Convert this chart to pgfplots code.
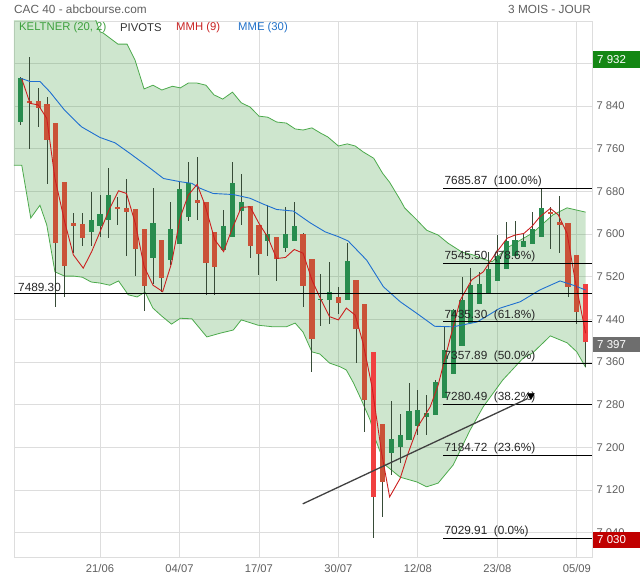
\documentclass[border=0pt]{standalone}
\usepackage{fontspec}
\setmainfont{Liberation Sans}
\usepackage{pgfplots}
\usepackage{pgfplotstable}
\pgfplotsset{compat=1.18}

\definecolor{candG}{RGB}{40,140,78}
\definecolor{candR}{RGB}{202,82,56}
\definecolor{candBR}{RGB}{240,64,64}
\definecolor{wick}{RGB}{55,75,55}
\definecolor{kelt}{RGB}{76,170,76}
\definecolor{keltfill}{RGB}{60,156,60}
\definecolor{mme}{RGB}{31,111,208}
\definecolor{mmh}{RGB}{204,31,31}
\definecolor{gridc}{RGB}{221,221,221}
\definecolor{txt}{RGB}{95,95,95}
\definecolor{legG}{RGB}{60,160,60}
\definecolor{legR}{RGB}{200,35,35}
\definecolor{legB}{RGB}{32,112,200}
\definecolor{boxG}{RGB}{20,135,20}
\definecolor{boxK}{RGB}{110,110,110}
\definecolor{boxR}{RGB}{192,0,0}

% i open high low close
\pgfplotstableread{
i o h l c
0 7810 7895 7805 7892
8 7604 7679 7577 7627
9 7615 7673 7595 7637
10 7627 7723 7592 7673
15 7555 7686 7507 7620
17 7551 7660 7542 7609
18 7581 7698 7581 7684
19 7631 7735 7624 7695
23 7570 7645 7570 7615
24 7594 7735 7594 7695
25 7644 7712 7617 7660
28 7587 7654 7559 7600
30 7574 7650 7567 7601
31 7587 7660 7587 7615
34 7477 7525 7427 7479
35 7477 7547 7431 7492
37 7477 7584 7477 7549
42 7189 7286 7148 7215
43 7201 7262 7170 7224
44 7214 7320 7214 7269
45 7240 7307 7223 7271
46 7256 7298 7223 7264
47 7260 7326 7260 7323
48 7292 7426 7292 7382
49 7337 7460 7337 7457
50 7390 7519 7390 7476
51 7434 7536 7434 7504
52 7469 7529 7469 7506
53 7487 7567 7487 7534
54 7511 7598 7511 7559
55 7534 7623 7534 7586
56 7559 7624 7559 7589
57 7575 7600 7575 7587
58 7581 7642 7581 7609
59 7594 7686 7594 7648
}\greenc

\pgfplotstableread{
i o h l c
1 7850 7932 7760 7846
2 7849 7874 7801 7837
3 7843 7857 7693 7777
4 7809 7809 7464 7584
5 7697 7697 7482 7540
6 7621 7639 7564 7616
7 7618 7639 7578 7593
11 7650 7670 7617 7647
12 7648 7704 7559 7642
13 7646 7646 7521 7572
14 7609 7609 7456 7502
16 7589 7589 7492 7517
20 7664 7745 7626 7658
21 7660 7660 7486 7546
22 7604 7604 7486 7538
26 7652 7652 7556 7578
27 7617 7617 7524 7562
29 7594 7594 7512 7553
32 7601 7601 7464 7503
33 7553 7553 7342 7403
36 7482 7500 7451 7470
38 7514 7514 7358 7421
39 7468 7468 7228 7289
41 7244 7244 7070 7135
60 7640 7651 7571 7639
61 7623 7671 7565 7617
62 7621 7621 7482 7500
63 7561 7561 7432 7454
}\redc

\pgfplotstableread{
i o h l c
40 7378 7378 7030 7107
64 7507 7507 7350 7397
}\brightc

\pgfplotsset{
  wickstyle/.style={draw=none, mark=none, forget plot,
    error bars/.cd, y dir=both, y explicit, error mark=none,
    error bar style={draw=wick, line width=0.9pt}},
  bodystyle/.style={draw=none, mark=none, forget plot,
    error bars/.cd, y dir=both, y explicit, error mark=none,
    error bar style={draw=#1, line width=5.2pt}},
}

\begin{document}
\begin{tikzpicture}
\path[use as bounding box] (0pt,0pt) rectangle (640pt,580pt);
\begin{axis}[
  at={(14pt,23pt)}, anchor=south west,
  scale only axis, width=578pt, height=536pt,
  xmin=-0.74, xmax=64.72, ymin=6994.4, ymax=7999.4,
  axis line style={gridc, line width=0.8pt},
  grid=major, grid style={gridc, line width=0.8pt},
  major tick length=0pt,
  xtick={9,18,27,36,45,54,63},
  xticklabels={21/06,04/07,17/07,30/07,12/08,23/08,05/09},
  ytick={7040,7120,7200,7280,7360,7440,7520,7600,7680,7760,7840,7920},
  yticklabels={7 040,7 120,7 200,7 280,7 360,7 440,7 520,7 600,7 680,7 760,7 840,{}},
  yticklabel pos=right,
  tick label style={font=\fontsize{11.2}{13}\selectfont, text=txt},
  xticklabel style={yshift=-4pt},
  yticklabel style={xshift=1pt},
  clip=true,
]
% Keltner channel fill (upper left to right, then lower right to left)
\addplot[fill=keltfill, fill opacity=0.25, draw=none, forget plot] coordinates {
(-0.74,8160) (4,8100) (8,8025) (9,7979) (9.34,7977) (11.04,7956) (12.06,7956) (12.97,7926) (13.99,7872) (15,7879) (16,7870) (17.2,7877) (18.1,7874) (19,7883) (20,7883) (21,7879) (21.9,7861) (22.9,7853) (24,7866) (25,7846) (26,7838) (27,7821) (28,7819) (29,7810) (30.1,7808) (31.1,7797) (32,7795) (33,7799) (34,7789) (34.8,7782) (36,7765) (37,7769) (37.9,7765) (38.8,7754) (40,7742) (41,7714) (41.8,7697) (43,7664) (43.5,7649) (44.9,7626) (46,7607) (47.3,7598) (48.4,7583) (50,7566) (51.2,7561) (52.4,7553) (53.4,7548) (55.1,7574) (58,7602) (60.3,7636) (61.9,7649) (64,7641)
(64,7350) (63,7379) (61.9,7396) (60,7409) (58,7377) (56.9,7367) (54.6,7326) (52.4,7276) (50.9,7232) (49,7167) (47.3,7133) (46,7126) (44.9,7135) (43,7144) (41.3,7167) (40.1,7219) (39.6,7251) (38.6,7289) (37.7,7321) (36.9,7345) (36.2,7351) (35,7358) (33.9,7375) (33,7379) (32,7416) (31.1,7433) (30.1,7426) (28.6,7426) (26.9,7429) (25,7439) (24.1,7420) (22.6,7414) (21.1,7407) (19.4,7441) (18.1,7442) (17.1,7431) (16,7446) (15,7461) (14.1,7491) (13.2,7482) (12.2,7486) (11.1,7512) (10.1,7504) (9,7508) (8,7510) (7,7519) (6.06,7521) (5,7521) (3.9,7529) (2.97,7617) (2.2,7654) (1.16,7630) (0.14,7729) (-0.74,7729)};
\addplot[kelt, line width=0.8pt] coordinates {
(-0.74,8160) (4,8100) (8,8025) (9,7979) (9.34,7977) (11.04,7956) (12.06,7956) (12.97,7926) (13.99,7872) (15,7879) (16,7870) (17.2,7877) (18.1,7874) (19,7883) (20,7883) (21,7879) (21.9,7861) (22.9,7853) (24,7866) (25,7846) (26,7838) (27,7821) (28,7819) (29,7810) (30.1,7808) (31.1,7797) (32,7795) (33,7799) (34,7789) (34.8,7782) (36,7765) (37,7769) (37.9,7765) (38.8,7754) (40,7742) (41,7714) (41.8,7697) (43,7664) (43.5,7649) (44.9,7626) (46,7607) (47.3,7598) (48.4,7583) (50,7566) (51.2,7561) (52.4,7553) (53.4,7548) (55.1,7574) (58,7602) (60.3,7636) (61.9,7649) (64,7641)};
\addplot[kelt, line width=0.8pt] coordinates {
(-0.74,7729) (0.14,7729) (1.16,7630) (2.2,7654) (2.97,7617) (3.9,7529) (5,7521) (6.06,7521) (7,7519) (8,7510) (9,7508) (10.1,7504) (11.1,7512) (12.2,7486) (13.2,7482) (14.1,7491) (15,7461) (16,7446) (17.1,7431) (18.1,7442) (19.4,7441) (21.1,7407) (22.6,7414) (24.1,7420) (25,7439) (26.9,7429) (28.6,7426) (30.1,7426) (31.1,7433) (32,7416) (33,7379) (33.9,7375) (35,7358) (36.2,7351) (36.9,7345) (37.7,7321) (38.6,7289) (39.6,7251) (40.1,7219) (41.3,7167) (43,7144) (44.9,7135) (46,7126) (47.3,7133) (49,7167) (50.9,7232) (52.4,7276) (54.6,7326) (56.9,7367) (58,7377) (60,7409) (61.9,7396) (63,7379) (64,7350)};

% candles: wicks
\addplot[wickstyle] table[x=i, y expr={(\thisrow{h}+\thisrow{l})/2}, y error expr={(\thisrow{h}-\thisrow{l})/2}] {\greenc};
\addplot[wickstyle] table[x=i, y expr={(\thisrow{h}+\thisrow{l})/2}, y error expr={(\thisrow{h}-\thisrow{l})/2}] {\redc};
\addplot[wickstyle] table[x=i, y expr={(\thisrow{h}+\thisrow{l})/2}, y error expr={(\thisrow{h}-\thisrow{l})/2}] {\brightc};
% bodies
\addplot[bodystyle=candG] table[x=i, y expr={(\thisrow{o}+\thisrow{c})/2}, y error expr={max(abs(\thisrow{c}-\thisrow{o})/2,1)}] {\greenc};
\addplot[bodystyle=candR] table[x=i, y expr={(\thisrow{o}+\thisrow{c})/2}, y error expr={max(abs(\thisrow{c}-\thisrow{o})/2,1)}] {\redc};
\addplot[bodystyle=candBR] table[x=i, y expr={(\thisrow{o}+\thisrow{c})/2}, y error expr={max(abs(\thisrow{c}-\thisrow{o})/2,1)}] {\brightc};

% MME 30
\addplot[mme, line width=0.9pt] coordinates {
(0,7892) (1.08,7886) (2.2,7886) (3.3,7867) (5,7832) (6.9,7801) (9,7781) (10.7,7771) (12.4,7751) (14.7,7723) (16.2,7704) (18.1,7698) (19.4,7695) (20.3,7686) (21.8,7676) (24.1,7674) (26,7667) (27.5,7656) (29,7646) (30.9,7643) (32.8,7621) (34.5,7604) (36,7595) (37.1,7587) (39.2,7551) (41.1,7501) (43,7473) (44.9,7451) (46.9,7427) (49,7426) (51.7,7435) (54.3,7461) (56.6,7473) (58.8,7495) (61.1,7512) (62.6,7504) (64,7495)};
% MMH 9
\addplot[mmh, line width=0.9pt] coordinates {
(0.14,7891) (1.08,7845) (2,7842) (2.97,7817) (3.9,7704) (5,7623) (5.98,7561) (7.1,7536) (8.06,7567) (9,7604) (10.1,7648) (11.1,7681) (12,7676) (13,7620) (14,7539) (15,7504) (16.1,7492) (17.1,7545) (18.1,7632) (19,7673) (20,7693) (20.9,7654) (22,7589) (23,7567) (23.9,7607) (25,7650) (26,7651) (27,7620) (28,7594) (29,7554) (30,7556) (31,7571) (32,7564) (33,7514) (33.9,7481) (35,7445) (36,7439) (36.9,7461) (37.9,7448) (38.8,7395) (39.8,7314) (40.9,7189) (41.8,7107) (43,7142) (43.9,7189) (45,7239) (46.4,7276) (47.3,7317) (48.6,7401) (49.8,7476) (51.1,7514) (52.4,7529) (53.7,7561) (55.1,7592) (56,7598) (57,7601) (57.9,7614) (58.8,7632) (60,7648) (60.9,7636) (61.9,7601) (62.8,7514) (64,7414)};

% pivot
\addplot[black, line width=0.9pt] coordinates {(-0.74,7489.3) (64.72,7489.3)};
% Fibonacci levels
\addplot[black, line width=0.9pt] coordinates {(47.9,7685.87) (64.72,7685.87)};
\addplot[black, line width=0.9pt] coordinates {(47.9,7545.50) (64.72,7545.50)};
\addplot[black, line width=0.9pt] coordinates {(47.9,7435.30) (64.72,7435.30)};
\addplot[black, line width=0.9pt] coordinates {(47.9,7357.89) (64.72,7357.89)};
\addplot[black, line width=0.9pt] coordinates {(47.9,7280.49) (64.72,7280.49)};
\addplot[black, line width=0.9pt] coordinates {(47.9,7184.72) (64.72,7184.72)};
\addplot[black, line width=0.9pt] coordinates {(47.9,7029.91) (64.72,7029.91)};
% trend line
\addplot[black!75, line width=1.3pt] coordinates {(31.96,7094) (57.36,7291)};
\addplot[only marks, mark=triangle*, mark size=4pt, mark options={rotate=180, fill=black, draw=black}] coordinates {(57.8,7297)};

\node[anchor=south west, inner sep=1pt, xshift=3pt, font=\fontsize{11.8}{13}\selectfont, text=black!85] at (axis cs:-0.74,7489.3) {7489.30};
\node[anchor=south west, inner sep=1pt, font=\fontsize{11.8}{13}\selectfont, text=black!85] at (axis cs:47.9,7685.87) {7685.87~~(100.0\%)};
\node[anchor=south west, inner sep=1pt, font=\fontsize{11.8}{13}\selectfont, text=black!85] at (axis cs:47.9,7545.50) {7545.50~~(78.6\%)};
\node[anchor=south west, inner sep=1pt, font=\fontsize{11.8}{13}\selectfont, text=black!85] at (axis cs:47.9,7435.30) {7435.30~~(61.8\%)};
\node[anchor=south west, inner sep=1pt, font=\fontsize{11.8}{13}\selectfont, text=black!85] at (axis cs:47.9,7357.89) {7357.89~~(50.0\%)};
\node[anchor=south west, inner sep=1pt, font=\fontsize{11.8}{13}\selectfont, text=black!85] at (axis cs:47.9,7280.49) {7280.49~~(38.2\%)};
\node[anchor=south west, inner sep=1pt, font=\fontsize{11.8}{13}\selectfont, text=black!85] at (axis cs:47.9,7184.72) {7184.72~~(23.6\%)};
\node[anchor=south west, inner sep=1pt, font=\fontsize{11.8}{13}\selectfont, text=black!85] at (axis cs:47.9,7029.91) {7029.91~~(0.0\%)};
\end{axis}

% titles
\node[anchor=west, inner sep=0pt, text=txt, font=\fontsize{11.8}{13}\selectfont] at (14pt,571pt) {CAC 40 - abcbourse.com};
\node[anchor=east, inner sep=0pt, text=txt, font=\fontsize{11.8}{13}\selectfont] at (591pt,571pt) {3 MOIS - JOUR};
% legend
\node[anchor=west, inner sep=0pt, font=\fontsize{11.3}{13}\selectfont, text=legG] at (19pt,552pt) {KELTNER (20, 2)};
\node[anchor=west, inner sep=0pt, font=\fontsize{11.3}{13}\selectfont, text=black!80] at (120pt,552pt) {PIVOTS};
\node[anchor=west, inner sep=0pt, font=\fontsize{11.3}{13}\selectfont, text=legR] at (176pt,552pt) {MMH (9)};
\node[anchor=west, inner sep=0pt, font=\fontsize{11.3}{13}\selectfont, text=legB] at (238pt,552pt) {MME (30)};
% value boxes
\fill[boxG] (593pt,512.3pt) rectangle (640pt,529pt);
\node[anchor=west, inner sep=0pt, text=white, font=\fontsize{11.5}{13}\selectfont] at (597pt,520.7pt) {7 932};
\fill[boxK] (593pt,228pt) rectangle (640pt,243pt);
\node[anchor=west, inner sep=0pt, text=white, font=\fontsize{11.5}{13}\selectfont] at (597pt,235.5pt) {7 397};
\fill[boxR] (593pt,32pt) rectangle (640pt,48.3pt);
\node[anchor=west, inner sep=0pt, text=white, font=\fontsize{11.5}{13}\selectfont] at (597pt,40.2pt) {7 030};
\end{tikzpicture}
\end{document}
